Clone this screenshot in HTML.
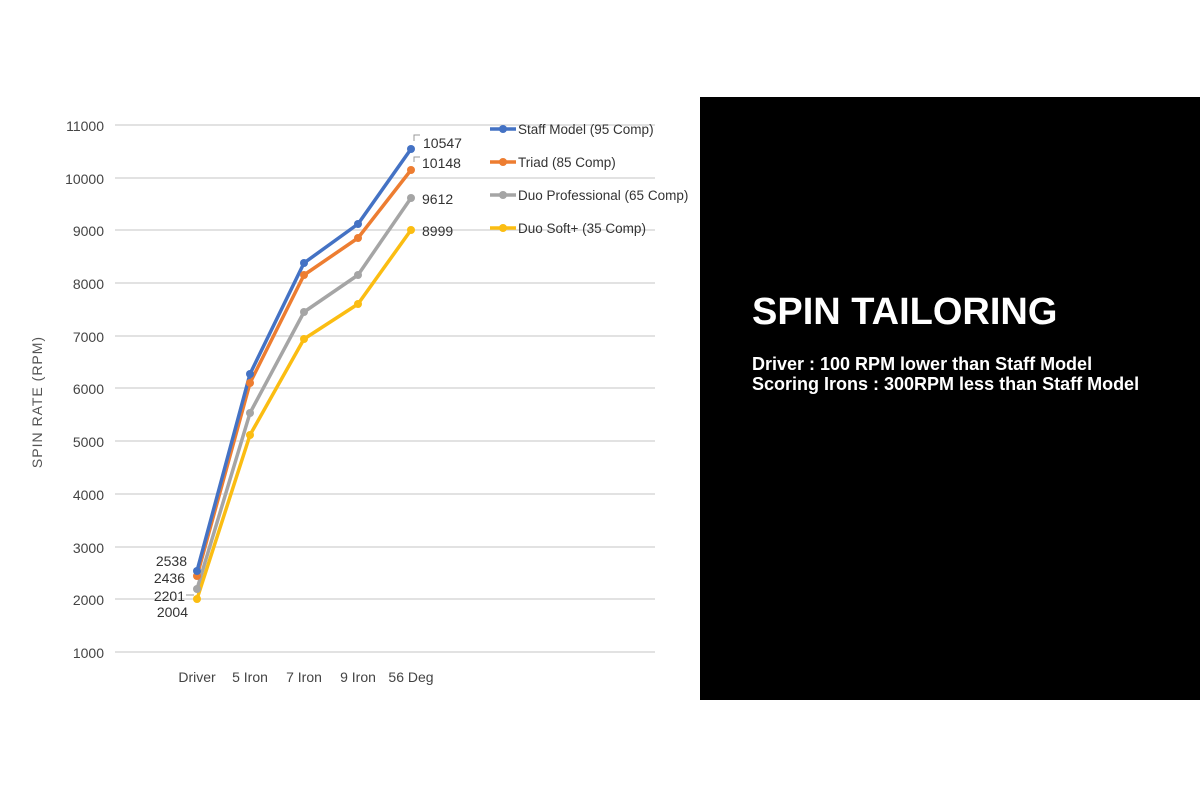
<!DOCTYPE html><html><head><style>body{margin:0;width:1200px;height:800px;background:#fff;overflow:hidden;font-family:"Liberation Sans",sans-serif}</style></head><body>
<svg width="1200" height="800" style="position:absolute;left:0;top:0">
<rect x="700" y="97" width="500" height="603" fill="#000"/>
<text x="752" y="324" fill="#fff" font-size="38" font-weight="bold">SPIN TAILORING</text>
<text x="752" y="370" fill="#fff" font-size="18" font-weight="bold">Driver  : 100 RPM lower than Staff Model</text>
<text x="752" y="390" fill="#fff" font-size="18" font-weight="bold">Scoring Irons  : 300RPM less than Staff Model</text>
<g stroke="#d9d9d9" stroke-width="1.5">
<line x1="115" x2="655" y1="125" y2="125"/><line x1="115" x2="655" y1="178" y2="178"/><line x1="115" x2="655" y1="230" y2="230"/><line x1="115" x2="655" y1="283" y2="283"/><line x1="115" x2="655" y1="336" y2="336"/><line x1="115" x2="655" y1="388" y2="388"/><line x1="115" x2="655" y1="441" y2="441"/><line x1="115" x2="655" y1="494" y2="494"/><line x1="115" x2="655" y1="547" y2="547"/><line x1="115" x2="655" y1="599" y2="599"/><line x1="115" x2="655" y1="652" y2="652"/>
</g>
<g font-size="14" fill="#444" text-anchor="end">
<text x="104" y="131">11000</text><text x="104" y="184">10000</text><text x="104" y="236">9000</text><text x="104" y="289">8000</text><text x="104" y="342">7000</text><text x="104" y="394">6000</text><text x="104" y="447">5000</text><text x="104" y="500">4000</text><text x="104" y="553">3000</text><text x="104" y="605">2000</text><text x="104" y="658">1000</text>
</g>
<text transform="translate(42,402) rotate(-90)" font-size="14" fill="#555" text-anchor="middle" letter-spacing="1">SPIN RATE (RPM)</text>
<g font-size="14" fill="#444" text-anchor="middle">
<text x="197" y="682">Driver</text><text x="250" y="682">5 Iron</text><text x="304" y="682">7 Iron</text><text x="358" y="682">9 Iron</text><text x="411" y="682">56 Deg</text>
</g>
<g fill="none" stroke-width="3.5" stroke-linejoin="round">
<polyline stroke="#fbbd12" points="197,599 250,435 304,339 358,304 411,230"/>
<polyline stroke="#a5a5a5" points="197,589 250,413 304,312 358,275 411,198"/>
<polyline stroke="#ed7d31" points="197,576 250,383 304,275 358,238 411,170"/>
<polyline stroke="#4472c4" points="197,571 250,374 304,263 358,224 411,149"/>
</g>
<g fill="#fbbd12"><circle cx="197" cy="599" r="4"/><circle cx="250" cy="435" r="4"/><circle cx="304" cy="339" r="4"/><circle cx="358" cy="304" r="4"/><circle cx="411" cy="230" r="4"/></g>
<g fill="#a5a5a5"><circle cx="197" cy="589" r="4"/><circle cx="250" cy="413" r="4"/><circle cx="304" cy="312" r="4"/><circle cx="358" cy="275" r="4"/><circle cx="411" cy="198" r="4"/></g>
<g fill="#ed7d31"><circle cx="197" cy="576" r="4"/><circle cx="250" cy="383" r="4"/><circle cx="304" cy="275" r="4"/><circle cx="358" cy="238" r="4"/><circle cx="411" cy="170" r="4"/></g>
<g fill="#4472c4"><circle cx="197" cy="571" r="4"/><circle cx="250" cy="374" r="4"/><circle cx="304" cy="263" r="4"/><circle cx="358" cy="224" r="4"/><circle cx="411" cy="149" r="4"/></g>
<g font-size="14" fill="#333">
<text x="187" y="566" text-anchor="end">2538</text><text x="185" y="583" text-anchor="end">2436</text><text x="185" y="601" text-anchor="end">2201</text><text x="188" y="617" text-anchor="end">2004</text>
<text x="423" y="148">10547</text><text x="422" y="168">10148</text><text x="422" y="204">9612</text><text x="422" y="236">8999</text>
</g>
<g stroke="#999" fill="none"><polyline points="414,141 414,135 420,135"/><polyline points="414,162 414,157 420,157"/><line x1="186" y1="595" x2="194" y2="595"/></g>
<g stroke-width="3.5">
<line x1="490" x2="516" y1="129" y2="129" stroke="#4472c4"/><line x1="490" x2="516" y1="162" y2="162" stroke="#ed7d31"/><line x1="490" x2="516" y1="195" y2="195" stroke="#a5a5a5"/><line x1="490" x2="516" y1="228" y2="228" stroke="#fbbd12"/>
</g>
<circle cx="503" cy="129" r="4" fill="#4472c4"/><circle cx="503" cy="162" r="4" fill="#ed7d31"/><circle cx="503" cy="195" r="4" fill="#a5a5a5"/><circle cx="503" cy="228" r="4" fill="#fbbd12"/>
<g font-size="13.5" fill="#333">
<text x="518" y="134">Staff Model (95 Comp)</text><text x="518" y="167">Triad (85 Comp)</text><text x="518" y="200">Duo Professional (65 Comp)</text><text x="518" y="233">Duo Soft+ (35 Comp)</text>
</g>
</svg></body></html>
